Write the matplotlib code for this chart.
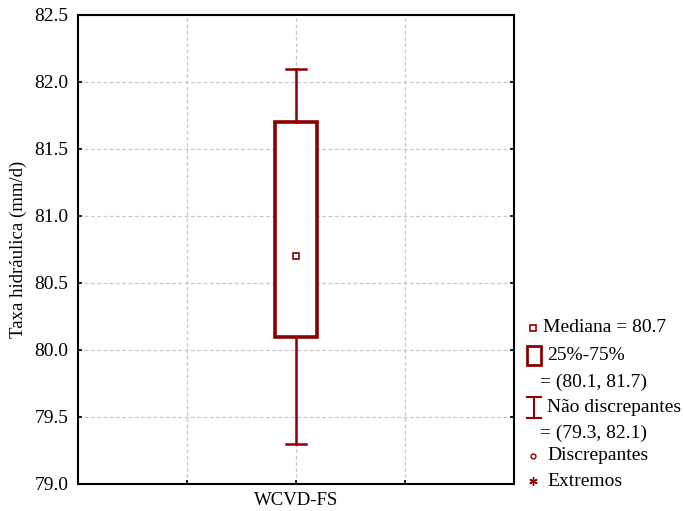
import matplotlib as mpl
mpl.use('Agg')
import matplotlib.pyplot as plt
from matplotlib.patches import Rectangle

plt.rcParams['font.family'] = ['Liberation Serif', 'DejaVu Serif']

# summary statistics of the hydraulic rate
group = 'WCVD-FS'
median = 80.7
q1, q3 = 80.1, 81.7
whis_lo, whis_hi = 79.3, 82.1

dark_red = '#8b0000'

fig = plt.figure(figsize=(6.84, 5.11), dpi=100)
ax = fig.add_axes([78 / 684, 27 / 511, 436 / 684, 469 / 511])

stats = [dict(med=median, q1=q1, q3=q3, whislo=whis_lo, whishi=whis_hi,
              fliers=[], label=group)]
ax.bxp(stats, positions=[0], widths=0.39, capwidths=0.19,
       showfliers=False, patch_artist=True, zorder=3,
       boxprops=dict(facecolor='white', edgecolor=dark_red, linewidth=2.6),
       whiskerprops=dict(color=dark_red, linewidth=1.8),
       capprops=dict(color=dark_red, linewidth=1.8),
       medianprops=dict(visible=False))
ax.plot([0], [median], 's', ms=4.5, mfc='white', mec=dark_red, mew=1.2,
        zorder=4)

ax.set_xlim(-2, 2)
ax.set_ylim(79.0, 82.5)
ax.set_xticks([-1, 0, 1])
ax.set_xticklabels(['', group, ''])
ax.set_yticks([79.0 + 0.5 * i for i in range(8)])
ax.yaxis.set_major_formatter(mpl.ticker.FormatStrFormatter('%.1f'))
ax.tick_params(direction='in', length=3, width=1.2, labelsize=14,
               right=True, pad=7)
ax.tick_params(axis='x', labelsize=13.5, pad=6)
for s in ax.spines.values():
    s.set_linewidth(1.5)
ax.grid(True, color='#c8c8c8', linestyle=(0, (3, 2)), linewidth=0.9)
ax.set_axisbelow(True)
ax.set_ylabel('Taxa hidráulica (mm/d)', fontsize=13.5, labelpad=5)

# legend block drawn in pixel units to the right of the plot
lg = fig.add_axes([0, 0, 1, 1])
lg.set_xlim(0, 684)
lg.set_ylim(511, 0)
lg.axis('off')
fs = 14
lg.plot([533], [328], 's', ms=4.5, mfc='white', mec=dark_red, mew=1.2)
lg.text(543, 328, 'Mediana = %.1f' % median, fontsize=fs, va='center')
lg.add_patch(Rectangle((527, 346), 14, 19, fill=False, ec=dark_red, lw=2.0))
lg.text(547, 355, '25%-75%', fontsize=fs, va='center')
lg.text(540, 382, '= (%.1f, %.1f)' % (q1, q3), fontsize=fs, va='center')
lg.plot([534, 534], [397, 418], color=dark_red, lw=1.5)
lg.plot([527, 541], [397, 397], color=dark_red, lw=1.5)
lg.plot([527, 541], [418, 418], color=dark_red, lw=1.5)
lg.text(547, 407, 'Não discrepantes', fontsize=fs, va='center')
lg.text(540, 433, '= (%.1f, %.1f)' % (whis_lo, whis_hi), fontsize=fs,
        va='center')
lg.plot([533], [456], 'o', ms=3.5, mfc='white', mec=dark_red, mew=1.0)
lg.text(547, 456, 'Discrepantes', fontsize=fs, va='center')
lg.plot([533], [481], marker=(6, 2, 0), ms=6, color=dark_red, mew=1.0)
lg.text(547, 481, 'Extremos', fontsize=fs, va='center')

fig.savefig('out.png', dpi=100)
